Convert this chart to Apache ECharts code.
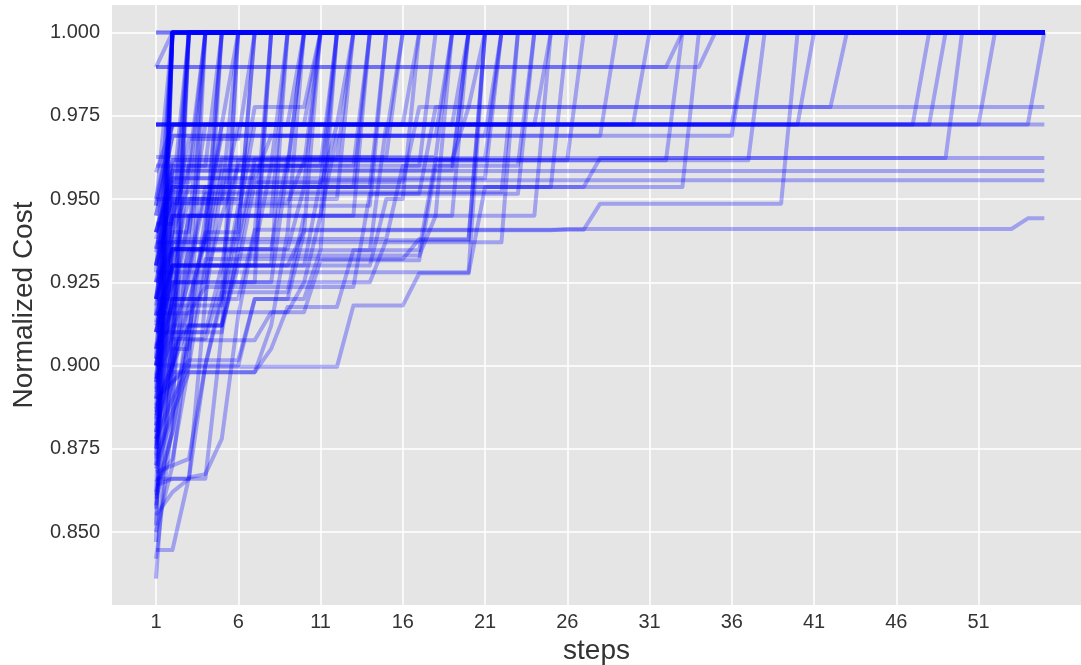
<!DOCTYPE html>
<html>
<head>
<meta charset="utf-8">
<script src="https://cdn.jsdelivr.net/npm/echarts@6/dist/echarts.min.js"></script>
<style>
html, body { margin: 0; padding: 0; background: #fff; }
#chart { width: 1081px; height: 665px; }
</style>
</head>
<body>
<div id="chart"></div>
<script>
// tick positions
const xTicks = [1, 6, 11, 16, 21, 26, 31, 36, 41, 46, 51];
const yTicks = [0.85, 0.875, 0.9, 0.925, 0.95, 0.975, 1.0];

// each run: step, value, step, value ... (vertices of the best-so-far curve)
// runs that hit the optimum within the first few steps
const quickRuns = [
	[1, 1, 55, 1],
	[1, 1, 55, 1],
	[1, 0.836, 2, 0.905, 3, 1, 55, 1],
	[1, 0.852, 2, 1, 55, 1],
	[1, 0.861, 2, 1, 55, 1],
	[1, 0.87, 2, 1, 55, 1],
	[1, 0.878, 2, 1, 55, 1],
	[1, 0.886, 2, 1, 55, 1],
	[1, 0.893, 2, 1, 55, 1],
	[1, 0.902, 2, 1, 55, 1],
	[1, 0.915, 2, 1, 55, 1],
	[1, 0.928, 2, 1, 55, 1],
	[1, 0.948, 2, 1, 55, 1],
	[1, 0.9896, 2, 1, 55, 1],
	[1, 0.842, 2, 0.884, 3, 1, 55, 1],
	[1, 0.858, 2, 0.91, 3, 1, 55, 1],
	[1, 0.873, 2, 0.925, 3, 0.925, 4, 1, 55, 1],
	[1, 0.865, 2, 0.872, 3, 0.9, 4, 1, 55, 1],
	[1, 0.89, 2, 0.935, 4, 0.935, 5, 1, 55, 1],
	[1, 0.88, 2, 0.9, 3, 0.918, 4, 0.94, 5, 1, 55, 1],
	[1, 0.9, 2, 0.93, 3, 0.95, 5, 0.95, 6, 1, 55, 1],
	[1, 0.91, 3, 0.91, 4, 0.945, 5, 0.9724, 6, 1, 55, 1],
	[1, 0.868, 3, 0.872, 4, 0.9, 5, 0.92, 6, 1, 55, 1],
	[1, 0.855, 2, 0.862, 3, 0.866, 4, 0.866, 5, 0.91, 6, 1, 55, 1],
	[1, 0.847, 2, 1, 55, 1],
	[1, 0.857, 2, 0.9, 3, 1, 55, 1],
	[1, 0.875, 2, 0.93, 3, 1, 55, 1],
	[1, 0.882, 2, 0.95, 3, 1, 55, 1],
	[1, 0.864, 2, 0.866, 3, 0.866, 4, 0.92, 5, 1, 55, 1],
	[1, 0.87, 2, 0.89, 3, 0.94, 4, 1, 55, 1],
	[1, 0.896, 2, 0.92, 3, 0.96, 4, 1, 55, 1],
	[1, 0.905, 2, 0.94, 3, 1, 55, 1],
	[1, 0.92, 2, 0.96, 4, 0.96, 5, 1, 55, 1],
	[1, 0.938, 2, 0.955, 3, 0.955, 4, 1, 55, 1]
];

// runs that reach the optimum between step 7 and step 26
const midRuns = [
	[1, 0.8446, 2, 0.8446, 3, 0.8664, 4, 0.8674, 5, 0.878, 6, 0.915, 7, 0.94, 8, 1, 55, 1],
	[1, 0.876, 2, 0.9, 3, 0.912, 5, 0.912, 6, 0.94, 7, 1, 55, 1],
	[1, 0.89, 3, 0.9, 4, 0.93, 7, 0.93, 8, 1, 55, 1],
	[1, 0.9, 2, 0.92, 3, 0.945, 5, 0.945, 6, 0.96, 8, 0.96, 9, 1, 55, 1],
	[1, 0.882, 2, 0.898, 7, 0.898, 8, 0.912, 9, 0.94, 10, 1, 55, 1],
	[1, 0.93, 2, 0.9487, 5, 0.9487, 6, 0.9724, 10, 0.9724, 11, 1, 55, 1],
	[1, 0.912, 2, 0.93, 3, 0.93, 4, 0.9536, 10, 0.9536, 11, 1, 55, 1],
	[1, 0.895, 2, 0.915, 3, 0.9346, 11, 0.9346, 12, 1, 55, 1],
	[1, 0.92, 2, 0.94, 3, 0.94, 4, 0.9724, 12, 0.9724, 13, 1, 55, 1],
	[1, 0.905, 2, 0.925, 4, 0.925, 5, 0.945, 13, 0.945, 14, 1, 55, 1],
	[1, 0.935, 2, 0.9536, 14, 0.9536, 15, 1, 55, 1],
	[1, 0.945, 2, 0.969, 15, 0.969, 16, 1, 55, 1],
	[1, 0.885, 2, 0.905, 3, 0.905, 4, 0.932, 16, 0.932, 17, 0.938, 20, 0.938, 21, 1, 55, 1],
	[1, 0.96, 17, 0.96, 18, 1, 55, 1],
	[1, 0.9626, 18, 0.9626, 19, 1, 55, 1],
	[1, 0.94, 2, 0.9586, 19, 0.9586, 20, 1, 55, 1],
	[1, 0.9724, 19, 0.9724, 20, 1, 55, 1],
	[1, 0.9, 2, 0.9, 3, 0.928, 20, 0.928, 21, 1, 55, 1],
	[1, 0.925, 2, 0.9562, 21, 0.9562, 22, 1, 55, 1],
	[1, 0.918, 2, 0.945, 24, 0.945, 25, 1, 55, 1],
	[1, 0.928, 3, 0.928, 4, 0.9516, 23, 0.9516, 24, 1, 55, 1],
	[1, 0.91, 2, 0.937, 22, 0.937, 23, 1, 55, 1],
	[1, 0.878, 2, 0.89, 3, 0.8996, 12, 0.8996, 13, 0.918, 16, 0.918, 17, 0.9277, 20, 0.9277, 21, 0.9536, 25, 0.9536, 26, 1, 55, 1],
	[1, 0.872, 2, 0.886, 3, 0.898, 7, 0.898, 8, 0.905, 9, 0.9176, 12, 0.9176, 13, 0.9346, 17, 0.9346, 18, 0.962, 21, 0.962, 22, 1, 55, 1],
	[1, 0.866, 3, 0.866, 4, 0.9, 6, 0.9, 7, 0.92, 10, 0.92, 11, 0.9346, 14, 0.9346, 15, 0.9724, 16, 0.9724, 17, 1, 55, 1],
	[1, 0.9157, 3, 0.9157, 4, 0.9236, 13, 0.9236, 14, 0.9516, 17, 0.9516, 18, 0.9776, 20, 0.9776, 21, 1, 55, 1],
	[1, 0.95, 6, 0.95, 7, 0.9776, 10, 0.9776, 11, 1, 55, 1],
	[1, 0.92, 2, 0.9346, 6, 0.9346, 7, 0.96, 9, 0.96, 10, 1, 55, 1],
	[1, 0.906, 2, 0.912, 5, 0.912, 6, 0.93, 8, 0.93, 9, 1, 55, 1],
	[1, 0.896, 2, 0.908, 4, 0.908, 5, 0.925, 7, 0.925, 8, 1, 55, 1],
	[1, 0.9426, 2, 0.9426, 3, 0.968, 6, 0.968, 7, 1, 55, 1],
	[1, 0.937, 4, 0.937, 5, 0.9724, 9, 0.9724, 10, 1, 55, 1],
	[1, 0.934, 2, 0.95, 12, 0.95, 13, 1, 55, 1],
	[1, 0.888, 2, 0.9, 4, 0.9, 5, 0.922, 9, 0.922, 10, 0.945, 11, 0.945, 12, 1, 55, 1],
	[1, 0.915, 2, 0.945, 3, 0.96, 13, 0.96, 14, 1, 55, 1],
	[1, 0.925, 2, 0.935, 8, 0.935, 9, 0.9626, 15, 0.9626, 16, 1, 55, 1],
	[1, 0.94, 2, 0.9562, 7, 0.9562, 8, 0.969, 18, 0.969, 19, 1, 55, 1],
	[1, 0.91, 2, 0.925, 10, 0.925, 11, 0.945, 19, 0.945, 20, 1, 55, 1],
	[1, 0.93, 2, 0.952, 22, 0.952, 23, 1, 55, 1],
	[1, 0.948, 2, 0.9724, 24, 0.9724, 25, 1, 55, 1],
	[1, 0.92, 3, 0.92, 4, 0.938, 15, 0.938, 16, 0.96, 23, 0.96, 24, 1, 55, 1],
	[1, 0.905, 2, 0.918, 5, 0.918, 6, 0.945, 11, 0.945, 12, 0.969, 21, 0.969, 22, 1, 55, 1],
	[1, 0.86, 2, 0.88, 3, 0.9076, 7, 0.9076, 8, 0.916, 10, 0.916, 11, 0.9316, 17, 0.9316, 18, 0.96, 19, 0.96, 20, 1, 55, 1],
	[1, 0.875, 2, 0.895, 3, 0.9016, 6, 0.9016, 7, 0.92, 9, 0.92, 10, 0.94, 11, 1, 55, 1],
	[1, 0.862, 2, 0.88, 3, 0.916, 9, 0.916, 10, 0.925, 14, 0.925, 15, 0.9376, 20, 0.9376, 21, 1, 55, 1],
	[1, 0.88, 2, 0.905, 3, 0.912, 5, 0.912, 6, 0.933, 17, 0.933, 18, 0.945, 19, 1, 55, 1],
	[1, 0.85, 2, 0.87, 3, 0.91, 4, 0.94, 6, 0.94, 7, 1, 55, 1],
	[1, 0.877, 2, 0.91, 3, 0.925, 8, 0.925, 9, 0.96, 10, 0.96, 11, 1, 55, 1],
	[1, 0.884, 2, 0.915, 3, 0.945, 8, 0.945, 9, 1, 55, 1],
	[1, 0.892, 2, 0.92, 4, 0.92, 5, 0.955, 11, 0.955, 12, 1, 55, 1],
	[1, 0.902, 2, 0.938, 6, 0.938, 7, 0.962, 12, 0.962, 13, 1, 55, 1],
	[1, 0.913, 2, 0.94, 3, 0.9536, 13, 0.9536, 14, 1, 55, 1],
	[1, 0.9, 2, 0.91, 3, 0.93, 14, 0.93, 15, 0.95, 16, 0.95, 17, 1, 55, 1],
	[1, 0.887, 2, 0.9, 3, 0.92, 5, 0.92, 6, 0.948, 14, 0.948, 15, 1, 55, 1],
	[1, 0.897, 2, 0.93, 4, 0.93, 5, 0.9586, 9, 0.9586, 10, 1, 55, 1],
	[1, 0.869, 2, 0.885, 3, 0.91, 5, 0.91, 6, 0.935, 7, 0.935, 8, 0.96, 11, 0.96, 12, 1, 55, 1]
];

// runs that reach the optimum late
const lateRuns = [
	[1, 0.93, 2, 0.9487, 9, 0.9487, 10, 0.9616, 26, 0.9616, 27, 1, 55, 1],
	[1, 0.945, 2, 0.969, 28, 0.969, 29, 1, 55, 1],
	[1, 0.9724, 30, 0.9724, 31, 1, 55, 1],
	[1, 0.9, 2, 0.93, 5, 0.93, 6, 0.9616, 32, 0.9616, 33, 1, 55, 1],
	[1, 0.9896, 32, 0.9896, 33, 1, 55, 1],
	[1, 0.91, 2, 0.935, 9, 0.935, 10, 0.9536, 33, 0.9536, 34, 1, 55, 1],
	[1, 0.9896, 34, 0.9896, 35, 1, 55, 1],
	[1, 0.92, 2, 0.945, 4, 0.945, 5, 0.969, 36, 0.969, 37, 1, 55, 1],
	[1, 0.9724, 36, 0.9724, 37, 1, 55, 1],
	[1, 0.935, 2, 0.9616, 37, 0.9616, 38, 1, 55, 1],
	[1, 0.895, 2, 0.92, 6, 0.92, 7, 0.9408, 27, 0.9408, 28, 0.9486, 39, 0.9486, 40, 1, 55, 1],
	[1, 0.95, 2, 0.9724, 40, 0.9724, 41, 1, 55, 1],
	[1, 0.94, 2, 0.9616, 19, 0.9616, 20, 0.9776, 42, 0.9776, 43, 1, 55, 1],
	[1, 0.958, 2, 0.9724, 47, 0.9724, 48, 1, 55, 1],
	[1, 0.925, 2, 0.945, 6, 0.945, 7, 0.9724, 48, 0.9724, 49, 1, 55, 1],
	[1, 0.9, 2, 0.935, 4, 0.935, 5, 0.9623, 49, 0.9623, 50, 1, 55, 1],
	[1, 0.9724, 51, 0.9724, 52, 1, 55, 1],
	[1, 0.94, 2, 0.9536, 11, 0.9536, 12, 0.9724, 54, 0.9724, 55, 1]
];

// runs that never reach the optimum
const stuckRuns = [
	[1, 0.91, 2, 0.93, 6, 0.93, 7, 0.955, 16, 0.955, 17, 0.9776, 55, 0.9776],
	[1, 0.9724, 55, 0.9724],
	[1, 0.92, 2, 0.9536, 27, 0.9536, 28, 0.9623, 55, 0.9623],
	[1, 0.93, 2, 0.9584, 55, 0.9584],
	[1, 0.915, 2, 0.93, 10, 0.93, 11, 0.9556, 55, 0.9556],
	[1, 0.89, 2, 0.91, 4, 0.91, 5, 0.93, 9, 0.93, 10, 0.9406, 25, 0.9406, 26, 0.941, 53, 0.941, 54, 0.9442, 55, 0.9442]
];

function toPoints(flat) {
	let pts = [];
	for (let i = 0; i < flat.length; i += 2) {
		pts.push([flat[i], flat[i + 1]]);
	}
	return pts;
}

const allRuns = quickRuns.concat(midRuns, lateRuns, stuckRuns);
const series = allRuns.map(function(run) {
	return {
		type: "line",
		data: toPoints(run),
		symbol: "none",
		silent: true,
		lineStyle: {
			color: "rgba(0,0,255,0.3)",
			width: 4,
			join: "round",
		},
	};
});

const chart = echarts.init(document.getElementById("chart"));
chart.setOption({
	animation: false,
	backgroundColor: "#ffffff",
	textStyle: { fontFamily: "Liberation Sans, Arial, sans-serif" },
	grid: {
		left: 112,
		right: 0,
		top: 5,
		bottom: 60,
		show: true,
		backgroundColor: "#E5E5E5",
		borderWidth: 0,
		outerBoundsMode: "none",
	},
	xAxis: {
		type: "value",
		min: -1.675,
		max: 57.23,
		name: "steps",
		nameLocation: "middle",
		nameGap: 29,
		nameTextStyle: { fontSize: 28, color: "#333" },
		axisLine: { show: false },
		axisTick: { show: false, customValues: xTicks },
		axisLabel: {
			customValues: xTicks,
			fontSize: 20,
			color: "#333",
			margin: 7,
		},
		splitLine: { show: true, lineStyle: { color: "#ffffff", width: 1.5 } },
	},
	yAxis: {
		type: "value",
		min: 0.8281,
		max: 1.00825,
		name: "Normalized Cost",
		nameLocation: "middle",
		nameGap: 74,
		nameTextStyle: { fontSize: 28, color: "#333" },
		axisLine: { show: false },
		axisTick: { show: false, customValues: yTicks },
		axisLabel: {
			customValues: yTicks,
			fontSize: 20,
			color: "#333",
			margin: 12,
			formatter: function(v) {
				return v.toFixed(3);
			},
		},
		splitLine: { show: true, lineStyle: { color: "#ffffff", width: 1.5 } },
	},
	series: series,
});
</script>
</body>
</html>
